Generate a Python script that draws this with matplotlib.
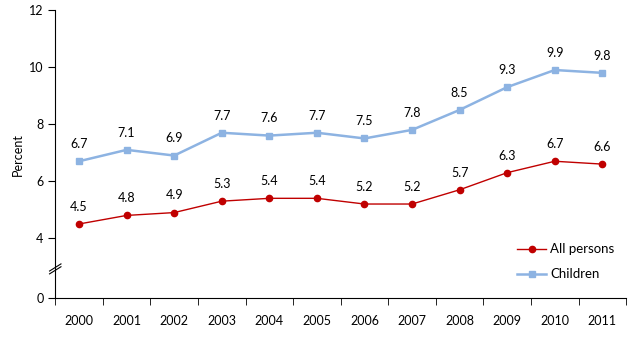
import matplotlib.pyplot as plt
import numpy as np

years = ['2000', '2001', '2002', '2003', '2004', '2005', '2006', '2007', '2008', '2009', '2010', '2011']
all_persons = [4.5, 4.8, 4.9, 5.3, 5.4, 5.4, 5.2, 5.2, 5.7, 6.3, 6.7, 6.6]
children = [6.7, 7.1, 6.9, 7.7, 7.6, 7.7, 7.5, 7.8, 8.5, 9.3, 9.9, 9.8]

# axis bottom sits below 4 with a break, labelled "0"
ybottom = 1.9

plt.rcParams['font.family'] = ['Lato', 'DejaVu Sans']

fig = plt.figure(figsize=(6.28, 3.38), dpi=100)
ax = fig.add_axes([0.088, 0.118, 0.909, 0.852])

x = np.arange(len(years))
ax.plot(x, children, color='#8DB3E2', lw=1.8, marker='s', ms=5, label='Children')
ax.plot(x, all_persons, color='#C00000', lw=1.0, marker='o', ms=4.5, label='All persons')

for i in range(len(years)):
    ax.annotate(f"{children[i]:.1f}", (x[i], children[i]), xytext=(0, 8),
                textcoords='offset points', ha='center', va='bottom', fontsize=9)
    ax.annotate(f"{all_persons[i]:.1f}", (x[i], all_persons[i]), xytext=(0, 8),
                textcoords='offset points', ha='center', va='bottom', fontsize=9)

ax.set_xlim(-0.5, len(years) - 0.5)
ax.set_ylim(ybottom, 12)
ax.set_yticks([ybottom, 4, 6, 8, 10, 12])
ax.set_yticklabels(['0', '4', '6', '8', '10', '12'], fontsize=9)
ax.set_xticks(x)
ax.set_xticklabels(years, fontsize=9)
ax.set_xticks(np.arange(-0.5, len(years)), minor=True)
ax.tick_params(axis='x', which='major', length=0, pad=12)
ax.tick_params(axis='x', which='minor', length=5, direction='out')
ax.tick_params(axis='y', length=5, direction='out')
ax.set_ylabel('Percent', fontsize=9)

for s in ['top', 'right']:
    ax.spines[s].set_visible(False)

# break marks on the y axis
yb = 3.05
ax.plot([-0.62, -0.38], [yb - 0.2, yb + 0.05], color='black', lw=0.8, clip_on=False)
ax.plot([-0.62, -0.38], [yb - 0.3, yb - 0.05], color='black', lw=0.8, clip_on=False)

h, l = ax.get_legend_handles_labels()
ax.legend(h[::-1], l[::-1], loc='lower right', bbox_to_anchor=(1.0, 0.02), frameon=False,
          fontsize=9.5, handlelength=2.2, labelspacing=1.0, handletextpad=0.3)

fig.savefig('out.png')
